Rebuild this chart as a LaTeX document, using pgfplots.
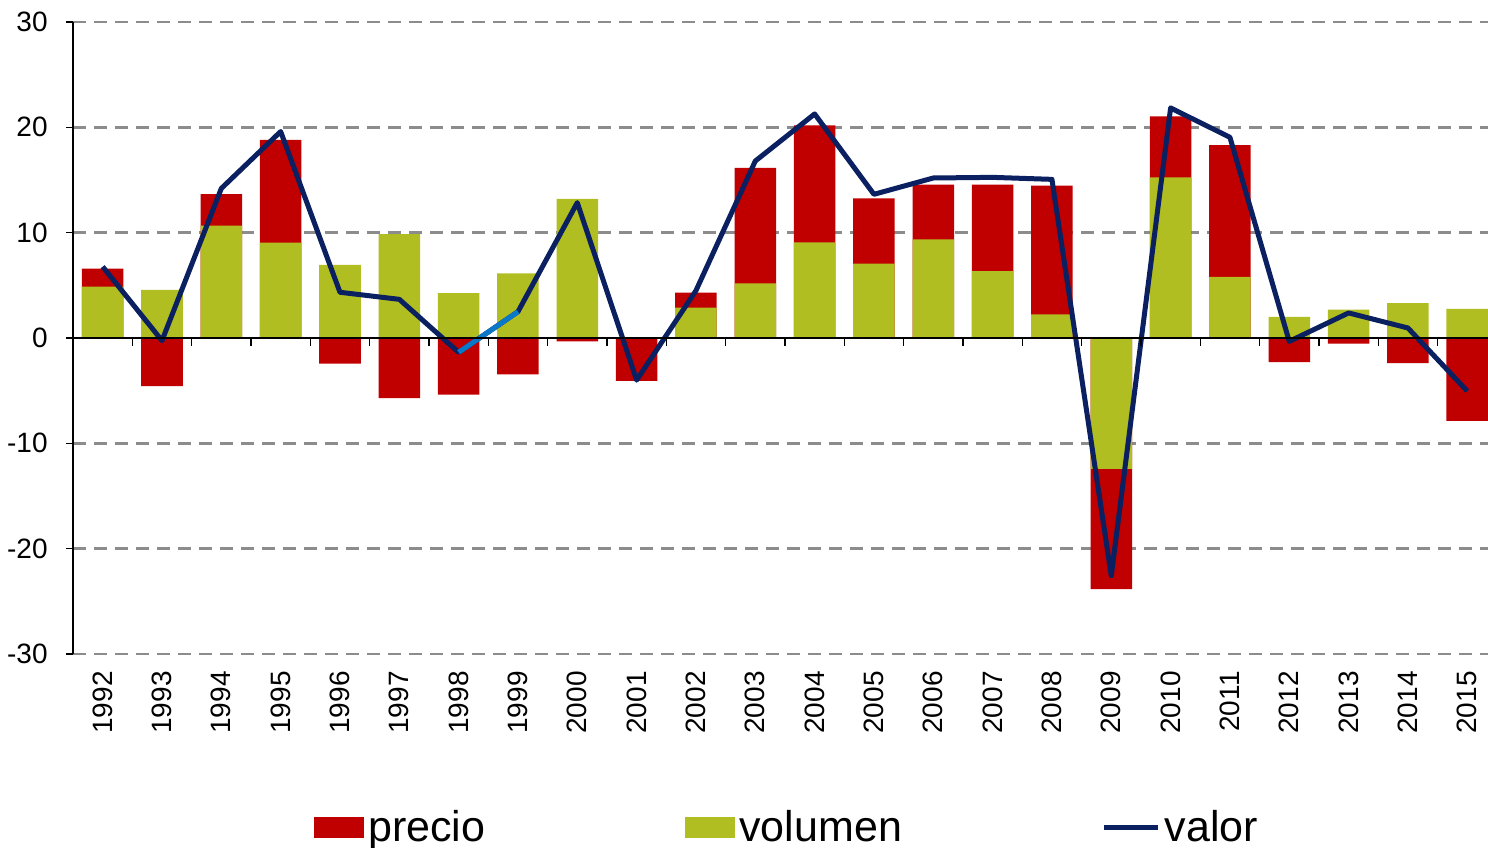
\documentclass[border=0pt]{standalone}
\usepackage{pgfplots}
\pgfplotsset{compat=1.18}
\usepackage{pgfplotstable}
\usepackage{fontspec}
\setmainfont{Liberation Sans}
\usetikzlibrary{calc}
\definecolor{red0}{HTML}{C00000}
\definecolor{green0}{HTML}{B0BE22}
\definecolor{navy0}{HTML}{0A2060}
\definecolor{lblue}{HTML}{0A78C8}
\definecolor{grid0}{HTML}{8C8C8C}

\pgfplotstableread{
idx year vol pre val
0 1992 4.87 1.71 6.77
1 1993 4.56 -4.56 -0.25
2 1994 10.66 3.01 14.20
3 1995 9.05 9.75 19.60
4 1996 6.93 -2.44 4.34
5 1997 9.87 -5.70 3.67
6 1998 4.27 -5.38 -1.36
7 1999 6.14 -3.45 2.50
8 2000 13.20 -0.32 12.85
9 2001 0.00 -4.08 -4.00
10 2002 2.88 1.42 4.50
11 2003 5.19 10.95 16.80
12 2004 9.08 11.11 21.27
13 2005 7.06 6.20 13.64
14 2006 9.37 5.19 15.19
15 2007 6.36 8.20 15.25
16 2008 2.25 12.21 15.06
17 2009 -12.42 -11.41 -22.57
18 2010 15.25 5.80 21.84
19 2011 5.80 12.52 19.05
20 2012 2.00 -2.28 -0.32
21 2013 2.69 -0.54 2.38
22 2014 3.30 -2.38 0.95
23 2015 2.76 -7.86 -5.04
}\datatable

\begin{document}
\begin{tikzpicture}
\begin{axis}[
  scale only axis,
  width=707.5pt, height=316pt,
  xmin=-0.5, xmax=23.35,
  ymin=-30, ymax=30,
  axis y line*=left,
  axis x line*=bottom,
  x axis line style={draw=none},
  y axis line style={line width=0.6pt, black},
  xtick={0,1,...,23},
  xticklabels={1992,1993,1994,1995,1996,1997,1998,1999,2000,2001,2002,2003,2004,2005,2006,2007,2008,2009,2010,2011,2012,2013,2014,2015},
  xtick style={draw=none},
  xticklabel style={rotate=90, anchor=east, inner sep=0pt, font=\fontsize{14}{16}\selectfont},
  xticklabel shift=5pt,
  ytick={-30,-20,-10,0,10,20,30},
  yticklabels={-30,-20,-10,0,10,20,30},
  yticklabel style={anchor=east, inner sep=0pt, font=\fontsize{14}{16}\selectfont},
  yticklabel shift=9pt,
  tick align=outside,
  major tick length=3.5pt,
  ytick style={line width=0.6pt, black},
  ymajorgrids,
  major grid style={grid0, line width=1.3pt, dash pattern=on 6.5pt off 4pt},
  legend style={draw=none, fill=none, at={(0.5055,-0.275)}, anchor=center,
    font=\fontsize{21.5}{25}\selectfont, inner sep=0pt,
    /tikz/every even column/.append style={column sep=98pt}},
  legend columns=3,
  legend cell align=left,
]
\addplot[ybar, bar shift=0pt, bar width=0.7, fill=red0, draw=none,
  legend image code/.code={\fill[red0] (0pt,-5.25pt) rectangle (25pt,5.25pt);}]
  table[x=idx, y expr={ifthenelse(\thisrow{vol}*\thisrow{pre}>0, \thisrow{vol}+\thisrow{pre}, \thisrow{pre})}] {\datatable};
\addlegendentry{precio}
\addplot[ybar, bar shift=0pt, bar width=0.7, fill=green0, draw=none,
  legend image code/.code={\fill[green0] (0pt,-5.25pt) rectangle (25pt,5.25pt);}]
  table[x=idx, y=vol] {\datatable};
\addlegendentry{volumen}
\addplot[navy0, line width=2.5pt, line join=round, no marks,
  legend image code/.code={\draw[navy0, line width=2.5pt] (0pt,0pt) -- (27pt,0pt);}]
  table[x=idx, y=val] {\datatable};
\addlegendentry{valor}
\addplot[lblue, line width=2.5pt, no marks, forget plot]
  coordinates {(6,-1.36) (7,2.50)};
\draw[black, line width=0.8pt] (axis cs:-0.5,0) -- (axis cs:23.35,0);
\pgfplotsinvokeforeach{0.5,1.5,...,22.5}{
  \draw[black, line width=0.6pt] (axis cs:#1,0) -- (axis cs:#1,-0.76);
}
\coordinate (bl) at (rel axis cs:0,0);
\coordinate (tr) at (rel axis cs:1,1);
\end{axis}
\pgfresetboundingbox
\path ($(bl)+(-36.5pt,-97pt)$) rectangle ($(tr)+(0pt,11pt)$);
\end{tikzpicture}
\end{document}
